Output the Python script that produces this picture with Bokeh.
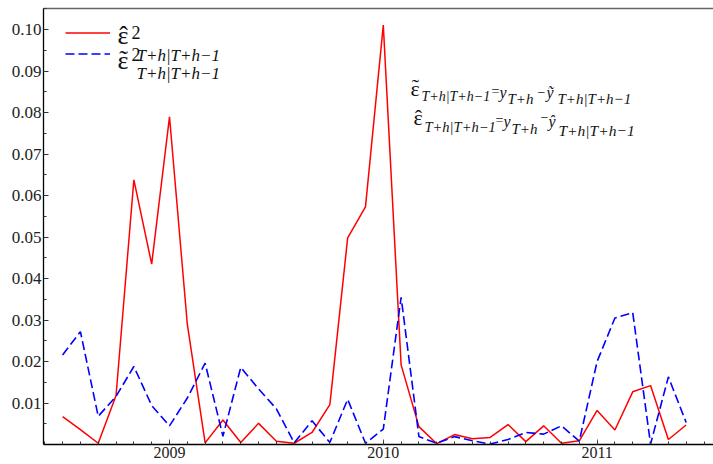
import numpy as np
from bokeh.plotting import figure
from bokeh.models import (Range1d, FixedTicker, NumeralTickFormatter, Label,
                          Legend, LegendItem, LinearAxis)
from bokeh.embed import file_html
from bokeh.resources import INLINE

# ---- data (monthly, Jul 2008 .. Jun 2011) ----
years = [2008] * 6 + [2009] * 12 + [2010] * 12 + [2011] * 6
months = [7, 8, 9, 10, 11, 12] + list(range(1, 13)) * 2 + [1, 2, 3, 4, 5, 6]
eps_hat_sq = [0.0067, 0.0036, 0.0003, 0.0118, 0.0638, 0.0435,
              0.0790, 0.0290, 0.0004, 0.0059, 0.0005, 0.0051,
              0.0008, 0.0003, 0.0029, 0.0096, 0.0498, 0.0573,
              0.1011, 0.0192, 0.0043, 0.0002, 0.0024, 0.0014,
              0.0017, 0.0048, 0.0007, 0.0045, 0.0003, 0.0009,
              0.0082, 0.0035, 0.0127, 0.0142, 0.0012, 0.0047]
eps_tilde_sq = [0.0216, 0.0272, 0.0068, 0.0116, 0.0188, 0.0094,
                0.0045, 0.0112, 0.0196, 0.0020, 0.0186, 0.0134,
                0.0086, 0.0004, 0.0057, 0.0005, 0.0109, 0.0003,
                0.0037, 0.0355, 0.0019, 0.0003, 0.0019, 0.0009,
                0.0001, 0.0012, 0.0029, 0.0025, 0.0045, 0.0008,
                0.0200, 0.0305, 0.0318, 0.0001, 0.0163, 0.0053]
year_ticks = [2009, 2010, 2011]
y_ticks = [0.01, 0.02, 0.03, 0.04, 0.05, 0.06, 0.07, 0.08, 0.09, 0.10]

t = [y + (m - 1) / 12 for y, m in zip(years, months)]

# ---- page-pixel helpers (layout only) ----
PPY = 213.8      # pixels per year
X2009 = 169.0    # page x of 2009
Y0 = 444.0       # page y of value 0
PPU = 4148.0     # pixels per unit value


def X(px):
    return 2009 + (px - X2009) / PPY


def Y(py):
    return (Y0 - py) / PPU


FONT = "Liberation Serif"

p = figure(width=713, height=464, output_backend="svg", toolbar_location=None,
           x_range=Range1d(X(43), X(713)), y_range=Range1d(0, Y(8)),
           min_border_left=43, min_border_right=0, min_border_top=8,
           min_border_bottom=20)
p.xgrid.visible = False
p.ygrid.visible = False
p.outline_line_color = None
p.background_fill_color = "white"
p.border_fill_color = "white"

r_red = p.line(t, eps_hat_sq, color="#ff0000", line_width=1.5)
r_blue = p.line(t, eps_tilde_sq, color="#0000ff", line_width=1.6, line_dash="9 4")

minor_x = [2008.5 + i / 12 for i in range(-1, 37)]
minor_y = [0.005 * i for i in range(1, 22)]

xa = p.xaxis[0]
xa.ticker = FixedTicker(ticks=year_ticks, minor_ticks=minor_x)
xa.major_label_overrides = {v: str(v) for v in year_ticks}
xa.major_tick_in = 5
xa.major_tick_out = 0
xa.minor_tick_in = 3
xa.minor_tick_out = 0
xa.axis_line_width = 1.6
xa.axis_line_color = "black"
xa.major_tick_line_color = "#555555"
xa.minor_tick_line_color = "#333333"
xa.major_label_text_font = FONT
xa.major_label_text_font_size = "16px"
xa.major_label_text_color = "#222222"
xa.major_label_standoff = 2

ya = p.yaxis[0]
ya.ticker = FixedTicker(ticks=y_ticks, minor_ticks=minor_y)
ya.formatter = NumeralTickFormatter(format="0.00")
ya.major_tick_in = 5
ya.major_tick_out = 0
ya.minor_tick_in = 3
ya.minor_tick_out = 0
ya.axis_line_width = 1.3
ya.axis_line_color = "black"
ya.major_tick_line_color = "#333333"
ya.minor_tick_line_color = "#333333"
ya.major_label_text_font = FONT
ya.major_label_text_font_size = "17px"
ya.major_label_text_color = "#222222"
ya.major_label_standoff = 2

top = LinearAxis(ticker=FixedTicker(ticks=[]), major_label_text_font_size="0px",
                 major_tick_in=0, major_tick_out=0, minor_tick_in=0, minor_tick_out=0,
                 axis_line_color="#666666", axis_line_width=1.5, major_label_standoff=0)
p.add_layout(top, "above")

legend = Legend(items=[LegendItem(label=" ", renderers=[r_red]),
                       LegendItem(label=" ", renderers=[r_blue])],
                location=(22, 380), glyph_width=45, glyph_height=21,
                label_height=21, label_width=0, label_standoff=0, spacing=0,
                padding=0, margin=0, border_line_alpha=0, background_fill_alpha=0,
                label_text_font_size="10px")
p.add_layout(legend)

SUB = "T+h|T+h\u22121"
HAT = "\u02c6"
TIL = "\u02dc"
EPS = "\u03b5"
# (text, page x, page baseline y, size, style, align)
texts = [
    # legend labels
    (EPS, 117, 35, 26, "normal", "left"),
    (HAT, 123, 35, 26, "normal", "center"),
    ("2", 131, 32, 18, "normal", "left"),
    (SUB, 136, 55, 17, "italic", "left"),
    (EPS, 117, 60, 26, "normal", "left"),
    (TIL, 123, 59, 26, "normal", "center"),
    ("2", 131, 54, 18, "normal", "left"),
    (SUB, 136, 73, 17, "italic", "left"),
    # annotation line 1
    (EPS, 410, 88, 22, "normal", "left"),
    (TIL, 415, 86, 22, "normal", "center"),
    (SUB, 421, 96, 14, "italic", "left"),
    ("=", 491, 91, 14, "normal", "left"),
    ("y", 499, 92, 16, "italic", "left"),
    ("T+h", 507, 98, 15, "italic", "left"),
    ("\u2212", 537, 91, 14, "normal", "left"),
    ("\u1ef9", 546, 92, 16, "italic", "left"),
    (SUB, 557, 98, 15, "italic", "left"),
    # annotation line 2
    (EPS, 413, 117, 22, "normal", "left"),
    (HAT, 418, 117, 22, "normal", "center"),
    (SUB, 424, 126, 14.5, "italic", "left"),
    ("=", 495, 120, 14, "normal", "left"),
    ("y", 503, 121, 16, "italic", "left"),
    ("T+h", 511, 128, 15, "italic", "left"),
    ("\u2212", 540, 116, 14, "normal", "left"),
    ("\u0177", 548, 121, 16, "italic", "left"),
    (SUB, 558, 130, 15.5, "italic", "left"),
]
for txt, px, py, size, style, align in texts:
    p.add_layout(Label(x=X(px), y=Y(py), text=txt, text_font=FONT,
                       text_font_size=f"{size}px", text_font_style=style,
                       text_color="#111111", text_baseline="alphabetic",
                       text_align=align))

open("out.html", "w").write(file_html(p, INLINE))
